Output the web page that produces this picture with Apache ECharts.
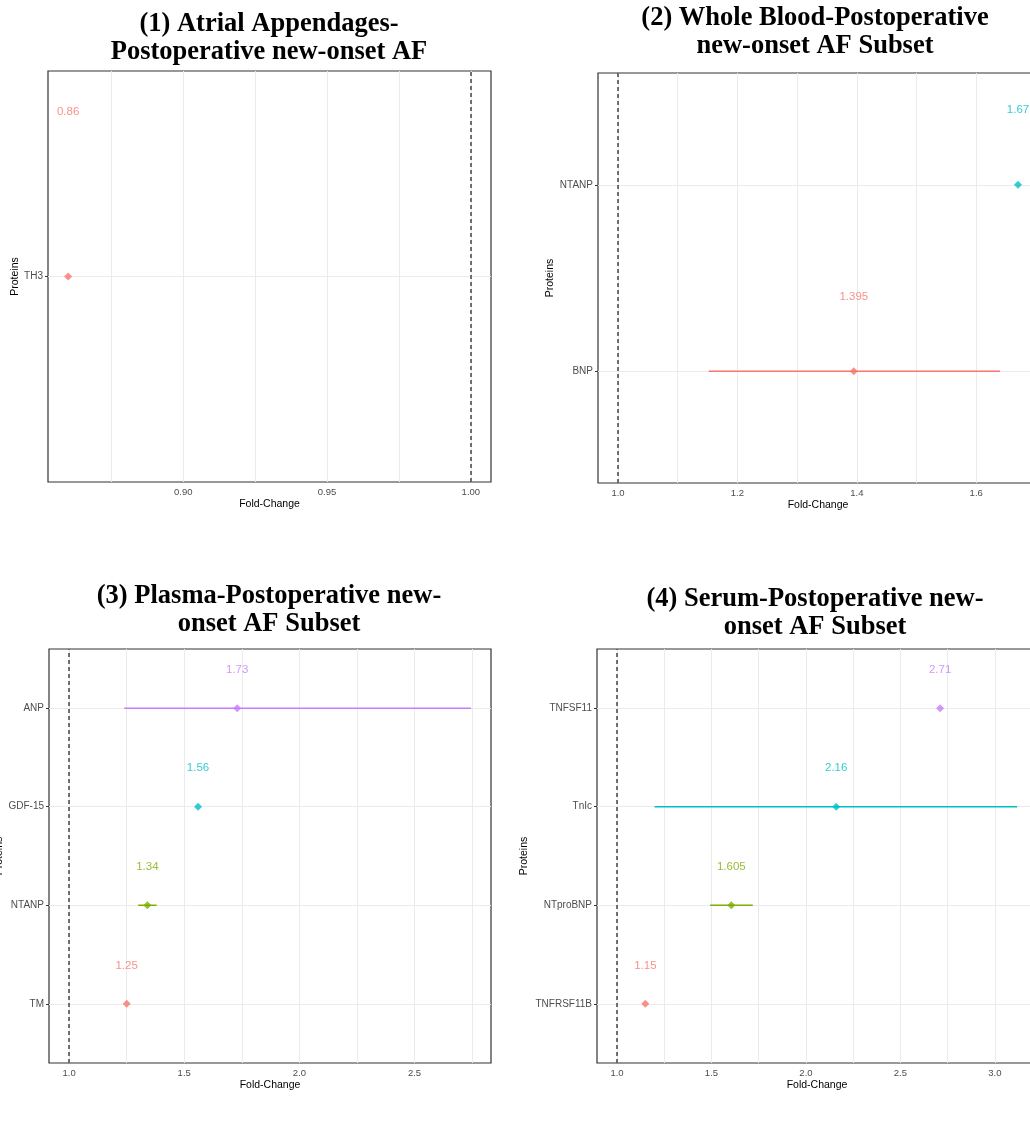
<!DOCTYPE html>
<html>
<head>
<meta charset="utf-8">
<title>Fold-Change by protein</title>
<script src="https://cdn.jsdelivr.net/npm/echarts@6/dist/echarts.min.js"></script>
<style>
  html, body { margin: 0; padding: 0; background: #fff; }
  #chart { width: 1030px; height: 1126px; }
</style>
</head>
<body>
<div id="chart"></div>
<script>
const panelTitles = [
  "(1) Atrial Appendages-\nPostoperative new-onset AF",
  "(2) Whole Blood-Postoperative\nnew-onset AF Subset",
  "(3) Plasma-Postoperative new-\nonset AF Subset",
  "(4) Serum-Postoperative new-\nonset AF Subset"
];

// (1) atrial appendages
const p1Proteins = ["TH3"];
const p1Fold = [0.86];
const p1Low = [null];
const p1High = [null];
const p1Ticks = [0.90, 0.95, 1.00];
const p1TickLabels = ["0.90", "0.95", "1.00"];
const p1Minor = [0.875, 0.925, 0.975];

// (2) whole blood
const p2Proteins = ["BNP", "NTANP"];
const p2Fold = [1.395, 1.67];
const p2Low = [1.152, null];
const p2High = [1.64, null];
const p2Ticks = [1.0, 1.2, 1.4, 1.6];
const p2TickLabels = ["1.0", "1.2", "1.4", "1.6"];
const p2Minor = [1.1, 1.3, 1.5, 1.7];

// (3) plasma
const p3Proteins = ["TM", "NTANP", "GDF-15", "ANP"];
const p3Fold = [1.25, 1.34, 1.56, 1.73];
const p3Low = [null, 1.30, null, 1.24];
const p3High = [null, 1.38, null, 2.745];
const p3Ticks = [1.0, 1.5, 2.0, 2.5];
const p3TickLabels = ["1.0", "1.5", "2.0", "2.5"];
const p3Minor = [1.25, 1.75, 2.25, 2.75];

// (4) serum
const p4Proteins = ["TNFRSF11B", "NTproBNP", "TnIc", "TNFSF11"];
const p4Fold = [1.15, 1.605, 2.16, 2.71];
const p4Low = [null, 1.493, 1.199, null];
const p4High = [null, 1.719, 3.117, null];
const p4Ticks = [1.0, 1.5, 2.0, 2.5, 3.0];
const p4TickLabels = ["1.0", "1.5", "2.0", "2.5", "3.0"];
const p4Minor = [1.25, 1.75, 2.25, 2.75];

const refLine = 1;

const panels = [
  { proteins: p1Proteins, fold: p1Fold, low: p1Low, high: p1High, ticks: p1Ticks, tickLabels: p1TickLabels, minor: p1Minor },
  { proteins: p2Proteins, fold: p2Fold, low: p2Low, high: p2High, ticks: p2Ticks, tickLabels: p2TickLabels, minor: p2Minor },
  { proteins: p3Proteins, fold: p3Fold, low: p3Low, high: p3High, ticks: p3Ticks, tickLabels: p3TickLabels, minor: p3Minor },
  { proteins: p4Proteins, fold: p4Fold, low: p4Low, high: p4High, ticks: p4Ticks, tickLabels: p4TickLabels, minor: p4Minor },
];

// ggplot hue palette, by number of groups
const HUES = {
  1: ["#F8766D"],
  2: ["#F8766D", "#00BFC4"],
  4: ["#F8766D", "#7CAE00", "#00BFC4", "#C77CFF"],
};

const layout = [
  { grid: { left: 48, top: 71, width: 443, height: 411 }, titleX: 269, titleY: 10, nameGapY: 22, nudge: 0.48 },
  { grid: { left: 598, top: 73, width: 440, height: 410 }, titleX: 815, titleY: 4, nameGapY: 40, nudge: 0.4 },
  { grid: { left: 49, top: 649, width: 442, height: 414 }, titleX: 269, titleY: 582, nameGapY: 41, nudge: 0.39 },
  { grid: { left: 597, top: 649, width: 440, height: 414 }, titleX: 815, titleY: 585, nameGapY: 67, nudge: 0.39 },
];

const FONT = "Liberation Sans, Arial, sans-serif";

// x range like ggplot: data + reference line, 5% padding
function xRange(p) {
  const vals = [refLine, ...p.fold, ...p.low, ...p.high].filter(v => v != null);
  const lo = Math.min(...vals), hi = Math.max(...vals);
  const pad = (hi - lo) * 0.05;
  return [lo - pad, hi + pad];
}

const option = {
  backgroundColor: "#fff",
  animation: false,
  title: [],
  grid: [],
  xAxis: [],
  yAxis: [],
  series: [],
};

panels.forEach((p, i) => {
  const L = layout[i];
  const colors = HUES[p.proteins.length];
  const [xmin, xmax] = xRange(p);
  const n = p.proteins.length;
  const cats = p.proteins.map((_, k) => k + 1);

  option.title.push({
    text: panelTitles[i],
    left: L.titleX,
    top: L.titleY,
    padding: 0,
    textAlign: "center",
    textStyle: {
      fontFamily: "Liberation Serif, Times New Roman, serif",
      fontWeight: "bold",
      fontSize: 26.5,
      lineHeight: 28,
      color: "#000",
    },
  });

  option.grid.push(Object.assign({
    show: true,
    borderColor: "#333",
    borderWidth: 1.2,
    backgroundColor: "transparent",
    outerBoundsMode: "none",
  }, L.grid));

  option.xAxis.push({
    type: "value",
    gridIndex: i,
    min: xmin,
    max: xmax,
    name: "Fold-Change",
    nameLocation: "middle",
    nameGap: 17,
    nameTextStyle: { fontFamily: FONT, fontSize: 10.5, color: "#000" },
    axisLine: { show: false },
    axisTick: { show: false, customValues: [...p.ticks, ...p.minor] },
    axisLabel: {
      customValues: p.ticks,
      fontFamily: FONT, fontSize: 9.5, color: "#4D4D4D", margin: 5,
      formatter: v => {
        const k = p.ticks.findIndex(t => Math.abs(t - v) < 1e-9);
        return k >= 0 ? p.tickLabels[k] : "";
      },
    },
    splitLine: { show: true, lineStyle: { color: "#EBEBEB", width: 1 } },
  });

  option.yAxis.push({
    type: "value",
    gridIndex: i,
    min: 0.4,
    max: n + 0.6,
    name: "Proteins",
    nameLocation: "middle",
    nameGap: L.nameGapY,
    nameTextStyle: { fontFamily: FONT, fontSize: 10.5, color: "#000" },
    axisLine: { show: false },
    axisTick: { show: true, length: 3, customValues: cats, lineStyle: { color: "#333" } },
    axisLabel: {
      customValues: cats,
      fontFamily: FONT, fontSize: 10, color: "#4D4D4D", margin: 5,
      formatter: v => p.proteins[Math.round(v) - 1] || "",
    },
    splitLine: { show: true, lineStyle: { color: "#EBEBEB", width: 1 } },
  });

  // error bars
  const bars = [];
  p.low.forEach((lo, k) => {
    if (lo != null && p.high[k] != null) {
      bars.push({ value: [lo, p.high[k], k + 1], itemStyle: { color: colors[k] } });
    }
  });
  option.series.push({
    type: "custom",
    xAxisIndex: i, yAxisIndex: i,
    encode: { x: [0, 1], y: 2 },
    data: bars,
    z: 3,
    renderItem: (params, api) => {
      const y = api.value(2);
      const a = api.coord([api.value(0), y]);
      const b = api.coord([api.value(1), y]);
      return {
        type: "line",
        shape: { x1: a[0], y1: a[1], x2: b[0], y2: b[1] },
        style: { stroke: api.visual("color"), lineWidth: 1.5 },
      };
    },
  });

  // points + reference line
  option.series.push({
    type: "scatter",
    xAxisIndex: i, yAxisIndex: i,
    symbol: "diamond",
    symbolSize: 8,
    z: 4,
    data: p.fold.map((v, k) => ({ value: [v, k + 1], itemStyle: { color: colors[k] } })),
    markLine: {
      silent: true,
      symbol: "none",
      label: { show: false },
      lineStyle: { color: "#444", type: [4, 3], width: 1.5 },
      data: [{ xAxis: refLine }],
    },
  });

  // value labels above points
  option.series.push({
    type: "scatter",
    xAxisIndex: i, yAxisIndex: i,
    symbolSize: 0,
    z: 5,
    data: p.fold.map((v, k) => ({
      value: [v, k + 1 + L.nudge],
      label: { color: colors[k] },
    })),
    label: {
      show: true,
      position: "inside",
      fontFamily: FONT,
      fontSize: 11.5,
      formatter: params => String(params.value[0]),
    },
  });
});

const chart = echarts.init(document.getElementById("chart"), null, { renderer: "canvas" });
chart.setOption(option);
</script>
</body>
</html>
